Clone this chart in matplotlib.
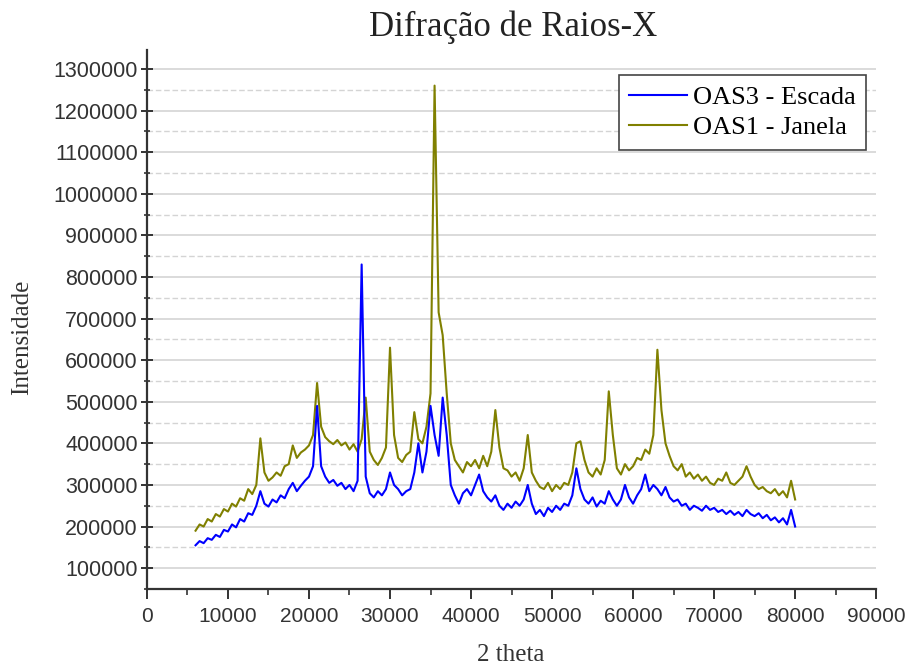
import numpy as np
import matplotlib
matplotlib.use("Agg")
import matplotlib.pyplot as plt
from matplotlib.ticker import MultipleLocator, FormatStrFormatter

# 2 theta grid (step 500)
two_theta = np.arange(6000, 80001, 500)

# OAS3 - Escada (blue)
escada = [
    155000, 165000, 160000, 172000, 168000, 180000, 175000, 192000, 188000, 205000,
    198000, 218000, 212000, 232000, 228000, 250000, 285000, 255000, 248000, 265000,
    258000, 275000, 268000, 290000, 305000, 285000, 298000, 310000, 320000, 345000,
    490000, 345000, 320000, 305000, 312000, 298000, 305000, 290000, 300000, 285000,
    310000, 830000, 320000, 280000, 270000, 285000, 275000, 290000, 330000, 300000,
    290000, 275000, 285000, 290000, 330000, 400000, 330000, 380000, 490000, 420000,
    370000, 510000, 420000, 300000, 275000, 255000, 280000, 290000, 275000, 300000,
    325000, 285000, 270000, 260000, 275000, 250000, 240000, 255000, 245000, 260000,
    250000, 265000, 300000, 255000, 230000, 240000, 225000, 245000, 235000, 250000,
    240000, 255000, 250000, 275000, 340000, 290000, 265000, 255000, 270000, 248000,
    262000, 255000, 285000, 265000, 250000, 265000, 300000, 270000, 255000, 275000,
    290000, 325000, 285000, 300000, 290000, 275000, 295000, 270000, 260000, 265000,
    250000, 255000, 240000, 250000, 245000, 238000, 250000, 240000, 245000, 235000,
    240000, 230000, 238000, 228000, 235000, 225000, 240000, 230000, 225000, 232000,
    220000, 228000, 215000, 222000, 210000, 220000, 205000, 240000, 200000,
]

# OAS1 - Janela (olive)
janela = [
    190000, 205000, 200000, 218000, 212000, 230000, 224000, 242000, 236000, 255000,
    248000, 268000, 262000, 290000, 278000, 300000, 412000, 330000, 310000, 318000,
    330000, 322000, 345000, 350000, 395000, 365000, 378000, 385000, 395000, 420000,
    545000, 440000, 415000, 405000, 398000, 408000, 395000, 402000, 385000, 398000,
    380000, 410000, 510000, 380000, 360000, 348000, 365000, 390000, 630000, 420000,
    365000, 355000, 372000, 380000, 475000, 410000, 400000, 440000, 520000, 1260000,
    715000, 660000, 520000, 400000, 360000, 345000, 330000, 355000, 345000, 360000,
    340000, 370000, 345000, 380000, 480000, 390000, 340000, 335000, 320000, 330000,
    310000, 340000, 420000, 330000, 310000, 295000, 290000, 305000, 285000, 300000,
    290000, 305000, 300000, 330000, 400000, 405000, 360000, 330000, 320000, 340000,
    325000, 360000, 525000, 420000, 340000, 325000, 350000, 335000, 345000, 365000,
    360000, 385000, 375000, 420000, 625000, 480000, 400000, 370000, 345000, 335000,
    350000, 320000, 330000, 315000, 325000, 310000, 320000, 305000, 300000, 315000,
    310000, 330000, 305000, 300000, 310000, 320000, 345000, 320000, 300000, 290000,
    295000, 285000, 280000, 290000, 275000, 285000, 270000, 310000, 265000,
]

title = "Difração de Raios-X"
x_label = "2 theta"
y_label = "Intensidade"

serif = "Liberation Serif"
sans = "Liberation Sans"

fig = plt.figure(figsize=(9.07, 6.70), dpi=100)
ax = fig.add_axes([0.162, 0.121, 0.804, 0.804])

ax.plot(two_theta, escada, color="#0000ff", lw=1.5, label="OAS3 - Escada", zorder=3)
ax.plot(two_theta, janela, color="#808000", lw=1.5, label="OAS1 - Janela", zorder=2)

ax.set_xlim(0, 90000)
ax.set_ylim(50000, 1345000)
ax.xaxis.set_major_locator(MultipleLocator(10000))
ax.xaxis.set_minor_locator(MultipleLocator(5000))
ax.yaxis.set_minor_locator(MultipleLocator(50000))
ax.set_yticks(np.arange(100000, 1300001, 100000))
ax.yaxis.set_major_formatter(FormatStrFormatter("%d"))

ax.grid(axis="y", which="major", color="#d4d4d4", lw=1.2, ls="-")
ax.grid(axis="y", which="minor", color="#d4d4d4", lw=1.0, ls=(0, (4, 2)))
ax.set_axisbelow(True)

for s in ["top", "right"]:
    ax.spines[s].set_visible(False)
for s in ["left", "bottom"]:
    ax.spines[s].set_color("#333333")
    ax.spines[s].set_linewidth(1.6)

ax.tick_params(axis="y", which="major", direction="inout", length=9, width=1.4,
               color="#333333", labelsize=15.5, labelcolor="#333333", pad=2)
ax.tick_params(axis="y", which="minor", direction="inout", length=5, width=1.2,
               color="#333333")
ax.tick_params(axis="x", which="major", direction="out", length=7, width=1.4,
               color="#333333", labelsize=15, labelcolor="#333333", pad=6)
ax.tick_params(axis="x", which="minor", direction="out", length=4, width=1.2,
               color="#333333")
for lab in ax.get_xticklabels() + ax.get_yticklabels():
    lab.set_fontfamily(sans)

fig.text(0.563, 0.022, x_label, fontfamily=serif, fontsize=18, color="#333333",
         ha="center", va="center")
fig.text(0.024, 0.497, y_label, fontfamily=serif, fontsize=18, color="#333333",
         ha="center", va="center", rotation=90)
fig.text(0.566, 0.960, title, fontfamily=serif, fontsize=25, color="#222222",
         ha="center", va="center")

leg = ax.legend(loc="upper right", bbox_to_anchor=(0.986, 0.954),
                prop={"family": serif, "size": 19}, fancybox=False,
                framealpha=1, edgecolor="#444444", handlelength=2.2,
                borderpad=0.4, labelspacing=0.25, handletextpad=0.2,
                borderaxespad=0.0)
leg.get_frame().set_linewidth(1.2)

fig.savefig("out.png", dpi=100)
